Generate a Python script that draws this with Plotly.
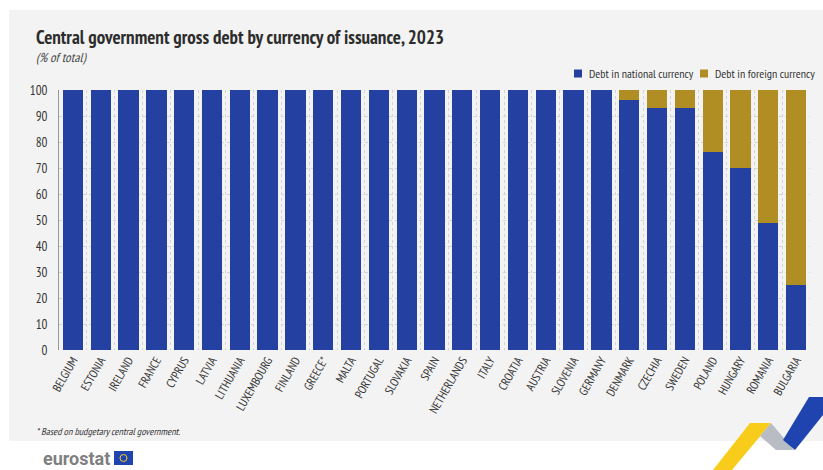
import plotly.graph_objects as go

countries = ["BELGIUM","ESTONIA","IRELAND","FRANCE","CYPRUS","LATVIA","LITHUANIA","LUXEMBOURG",
             "FINLAND","GREECE*","MALTA","PORTUGAL","SLOVAKIA","SPAIN","NETHERLANDS","ITALY",
             "CROATIA","AUSTRIA","SLOVENIA","GERMANY","DENMARK","CZECHIA","SWEDEN","POLAND",
             "HUNGARY","ROMANIA","BULGARIA"]
national = [100,100,100,100,100,100,100,100,100,100,100,100,100,100,100,100,100,100,100,100,
            96,93,93,76,70,49,25]
foreign = [0,0,0,0,0,0,0,0,0,0,0,0,0,0,0,0,0,0,0,0,4,7,7,24,30,51,75]
yticks = [0,10,20,30,40,50,60,70,80,90,100]
series_names = ["Debt in national currency", "Debt in foreign currency"]

W, H = 823, 470
L, R, T, B = 59, 13, 90, 120
pw, ph = W - L - R, H - T - B

def px(x):
    return (x - L) / pw

def py(y):
    return (H - B - y) / ph

FONT = "PT Sans Narrow, Roboto Condensed, sans-serif"
BLUE = "#2440a0"
GOLD = "#b08e24"

fig = go.Figure()
fig.add_trace(go.Bar(x=countries, y=national, name=series_names[0], showlegend=False,
                     marker=dict(color=BLUE, line=dict(width=0))))
fig.add_trace(go.Bar(x=countries, y=foreign, name=series_names[1], showlegend=False,
                     marker=dict(color=GOLD, line=dict(width=0))))

shapes = []
shapes.append(dict(type="rect", xref="paper", yref="paper", x0=px(9), x1=px(823), y0=py(441), y1=py(10),
                   fillcolor="#f3f3f3", line=dict(width=0), layer="below"))

def poly(pts, color):
    d = "M " + " L ".join(f"{px(a):.5f},{py(b):.5f}" for a, b in pts) + " Z"
    return dict(type="path", xref="paper", yref="paper", path=d, fillcolor=color, line=dict(width=0), layer="above")

shapes.append(poly([(713, 470), (750, 423), (771, 423), (732, 470)], "#f7cc1a"))
shapes.append(poly([(771, 423), (794, 450), (776, 450), (760, 436)], "#b8bcc4"))
shapes.append(poly([(783, 440), (809, 397), (823, 397), (823, 415), (795, 450)], "#1f44b0"))
shapes.append(dict(type="rect", xref="paper", yref="paper", x0=px(114), x1=px(133), y0=py(465), y1=py(451),
                   fillcolor="#1f44b0", line=dict(width=0)))
shapes.append(dict(type="circle", xref="paper", yref="paper", x0=px(120), x1=px(127), y0=py(461.5), y1=py(454.5),
                   fillcolor="rgba(0,0,0,0)", line=dict(width=1, color="#f7cc1a")))
# legend swatches
shapes.append(dict(type="rect", xref="paper", yref="paper", x0=px(574), x1=px(582), y0=py(77.5), y1=py(69.5),
                   fillcolor=BLUE, line=dict(width=0)))
shapes.append(dict(type="rect", xref="paper", yref="paper", x0=px(700), x1=px(708), y0=py(77.5), y1=py(69.5),
                   fillcolor=GOLD, line=dict(width=0)))

annotations = [
    dict(text="<b>Central government gross debt by currency of issuance, 2023</b>", xref="paper", yref="paper",
         x=px(34), y=py(37), xanchor="left", yanchor="middle", showarrow=False,
         font=dict(family=FONT, size=19, color="#2d2d2d")),
    dict(text="<i>(% of total)</i>", xref="paper", yref="paper",
         x=px(34), y=py(57), xanchor="left", yanchor="middle", showarrow=False,
         font=dict(family=FONT, size=13, color="#444444")),
    dict(text="<i>* Based on budgetary central government.</i>", xref="paper", yref="paper",
         x=px(34), y=py(431), xanchor="left", yanchor="middle", showarrow=False,
         font=dict(family=FONT, size=10, color="#333333")),
    dict(text="<b>eurostat</b>", xref="paper", yref="paper",
         x=px(41), y=py(458), xanchor="left", yanchor="middle", showarrow=False,
         font=dict(family="Roboto, Liberation Sans, sans-serif", size=18, color="#7f7f7f")),
    dict(text=series_names[0], xref="paper", yref="paper",
         x=px(587), y=py(73.5), xanchor="left", yanchor="middle", showarrow=False,
         font=dict(family=FONT, size=12, color="#333333")),
    dict(text=series_names[1], xref="paper", yref="paper",
         x=px(713), y=py(73.5), xanchor="left", yanchor="middle", showarrow=False,
         font=dict(family=FONT, size=12, color="#333333")),
]

fig.update_layout(
    width=W, height=H,
    barmode="stack", bargap=0.27,
    margin=dict(l=L, r=R, t=T, b=B, autoexpand=False),
    paper_bgcolor="white", plot_bgcolor="#f3f3f3",
    font=dict(family=FONT, size=12, color="#333333"),
    showlegend=False,
    xaxis=dict(type="category", tickson="boundaries", showgrid=True, gridcolor="#d4d4d4", griddash="dot",
               tickangle=-60, ticks="", tickfont=dict(family=FONT, size=12, color="#333333"),
               showline=False, zeroline=False),
    yaxis=dict(range=[0, 100], tickvals=yticks, showgrid=True, gridcolor="#d4d4d4", griddash="dot",
               showline=True, linecolor="#999999", linewidth=1, zeroline=False, ticks="",
               tickfont=dict(family=FONT, size=13, color="#333333"), ticklabelstandoff=8),
    shapes=shapes, annotations=annotations,
)
fig.write_html("out.html", config={"displayModeBar": False}, post_script="document.body.style.margin='0';")
